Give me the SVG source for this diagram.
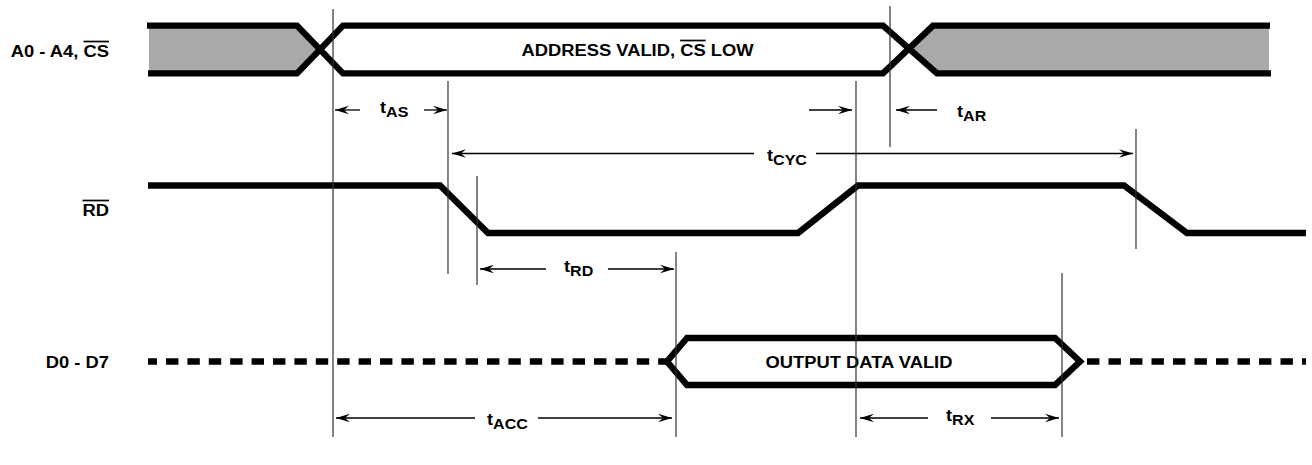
<svg xmlns="http://www.w3.org/2000/svg" width="1312" height="465" viewBox="0 0 1312 465">
<style>
text{font-family:"Liberation Sans",Arial,sans-serif;font-weight:bold;fill:#000}
.lbl{font-size:17px}
.t{font-size:17px}
.s{font-size:15px}
.sig{fill:none;stroke:#000;stroke-width:6.4;stroke-linejoin:miter}
.grey{fill:#a9a9a9;stroke:none}
.v{stroke:#333;stroke-width:1.2;fill:none}
.a{stroke:#000;stroke-width:1.3;fill:none;marker-end:url(#ah)}
.o{text-decoration:overline}
</style>
<defs>
<marker id="ah" markerUnits="userSpaceOnUse" markerWidth="16" markerHeight="12" refX="14" refY="6" orient="auto">
<path d="M0 1.8L14 6L0 10.2L5 6Z" fill="#000"/>
</marker>
</defs>
<rect width="1312" height="465" fill="#fff"/>
<g id="sig-address">
<path class="grey" d="M149 28H297L317 49L297 71H149Z"/>
<path class="grey" d="M1269 28H933L911 49L937 71H1269Z"/>
<path class="sig" d="M147 25.6H297L343 73.4H883L933 25.6H1270"/>
<path class="sig" d="M148 73.4H297L343 25.6H883L937 73.4H1271"/>
<text class="lbl" transform="translate(109 57) scale(1.08 1)" text-anchor="end">A0 - A4, <tspan class="o">CS</tspan></text>
<text class="lbl" transform="translate(637.5 56) scale(1.08 1)" text-anchor="middle">ADDRESS VALID, <tspan class="o">CS</tspan> LOW</text>
</g>
<g id="sig-rd">
<path class="sig" d="M148 185.5H440L488 233H798L858 185.5H1124L1187 233H1306"/>
<text class="lbl" transform="translate(109 216) scale(1.08 1)" text-anchor="end"><tspan class="o">RD</tspan></text>
</g>
<g id="sig-data">
<path class="sig" d="M148 361.5H670" stroke-dasharray="12.4 9" stroke-dashoffset="3.4"/>
<path class="sig" d="M1087 361.5H1306" stroke-dasharray="12.4 9.1"/>
<path class="sig" d="M687 338L667 361.5L687 385H1055L1080 361.5L1055 338Z"/>
<text class="lbl" transform="translate(109 368) scale(1.08 1)" text-anchor="end">D0 - D7</text>
<text class="lbl" transform="translate(859 368) scale(1.08 1)" text-anchor="middle">OUTPUT DATA VALID</text>
</g>
<g id="connectors">
<path class="v" d="M333 9V437M448 81V274M477 176V285M676 252V437M856 81V437M890 6V147M1136 129V249M1062 273V437"/>
<path class="a" d="M360 110H335"/>
<path class="a" d="M424 110H447"/>
<path class="a" d="M809 110H852"/>
<path class="a" d="M937 110H896"/>
<path class="a" d="M754 153.5H452"/>
<path class="a" d="M816 153.5H1133"/>
<path class="a" d="M546 269H480"/>
<path class="a" d="M608 269H674"/>
<path class="a" d="M475 418H336"/>
<path class="a" d="M538 418H672"/>
<path class="a" d="M928 418H860"/>
<path class="a" d="M991 418H1059"/>
</g>
<g id="timing-labels">
<text class="t" transform="translate(380 113) scale(1.07 1)">t<tspan class="s" dy="4">AS</tspan></text>
<text class="t" transform="translate(957 116.5) scale(1.07 1)">t<tspan class="s" dy="4">AR</tspan></text>
<text class="t" transform="translate(767 160.5) scale(1.07 1)">t<tspan class="s" dy="4">CYC</tspan></text>
<text class="t" transform="translate(564 271.5) scale(1.07 1)">t<tspan class="s" dy="4">RD</tspan></text>
<text class="t" transform="translate(487 424.5) scale(1.07 1)">t<tspan class="s" dy="4">ACC</tspan></text>
<text class="t" transform="translate(946 420.5) scale(1.07 1)">t<tspan class="s" dy="4">RX</tspan></text>
</g>
</svg>
